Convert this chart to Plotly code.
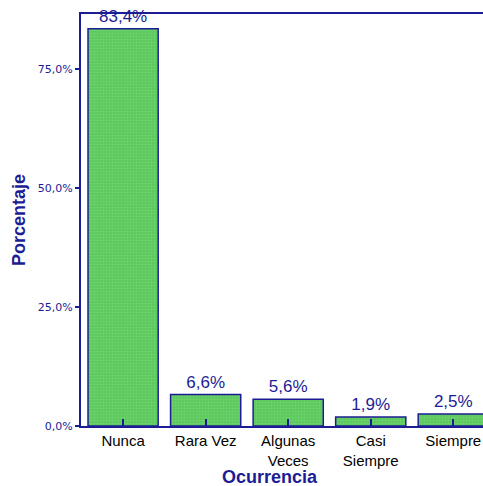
import plotly.graph_objects as go

categories = ["Nunca", "Rara Vez", "Algunas<br>Veces", "Casi<br>Siempre", "Siempre"]
values = [83.4, 6.6, 5.6, 1.9, 2.5]
value_labels = ["83,4%", "6,6%", "5,6%", "1,9%", "2,5%"]
y_tickvals = [0, 25, 50, 75]
y_ticktext = ["0,0%", "25,0%", "50,0%", "75,0%"]
x_title = "Ocurrencia"
y_title = "Porcentaje"

navy = "#1c1c94"

fig = go.Figure()
fig.add_trace(go.Bar(
    x=list(range(len(categories))),
    y=values,
    text=value_labels,
    textposition="outside",
    textfont=dict(family="Arial", size=17, color=navy),
    cliponaxis=False,
    width=0.85,
    marker=dict(
        color="#5cc95c",
        line=dict(color=navy, width=1.5),
        pattern=dict(shape=".", fgcolor="#86dc86", bgcolor="#5cc95c", size=3, solidity=0.4),
    ),
))

fig.update_layout(
    width=483, height=486,
    margin=dict(l=81, r=0, t=14, b=60),
    plot_bgcolor="white", paper_bgcolor="white",
    showlegend=False,
    xaxis=dict(
        range=[-0.51, 4.36],
        tickvals=list(range(len(categories))),
        ticktext=categories,
        ticks="inside", ticklen=7, tickwidth=2, tickcolor=navy,
        showline=True, linecolor=navy, linewidth=2, mirror=True,
        showgrid=False, zeroline=False,
        tickfont=dict(family="Arial", size=15, color="black"),
    ),
    yaxis=dict(
        range=[0, 86.5],
        tickvals=y_tickvals,
        ticktext=y_ticktext,
        ticks="outside", ticklen=4, tickwidth=2, tickcolor=navy,
        showline=True, linecolor=navy, linewidth=2,
        showgrid=False, zeroline=False,
        tickfont=dict(family="DejaVu Sans", size=11, color=navy),
        title=dict(text="<b>" + y_title + "</b>", font=dict(family="Arial", size=18, color=navy), standoff=8),
    ),
    annotations=[dict(
        text="<b>" + x_title + "</b>",
        xref="paper", yref="paper", x=0.47, y=-0.124,
        xanchor="center", yanchor="middle", showarrow=False,
        font=dict(family="Arial", size=18, color=navy),
    )],
)

fig.write_html(
    "out.html",
    config={"displayModeBar": False},
    post_script="document.body.style.margin='0';document.body.style.overflow='hidden';",
)
